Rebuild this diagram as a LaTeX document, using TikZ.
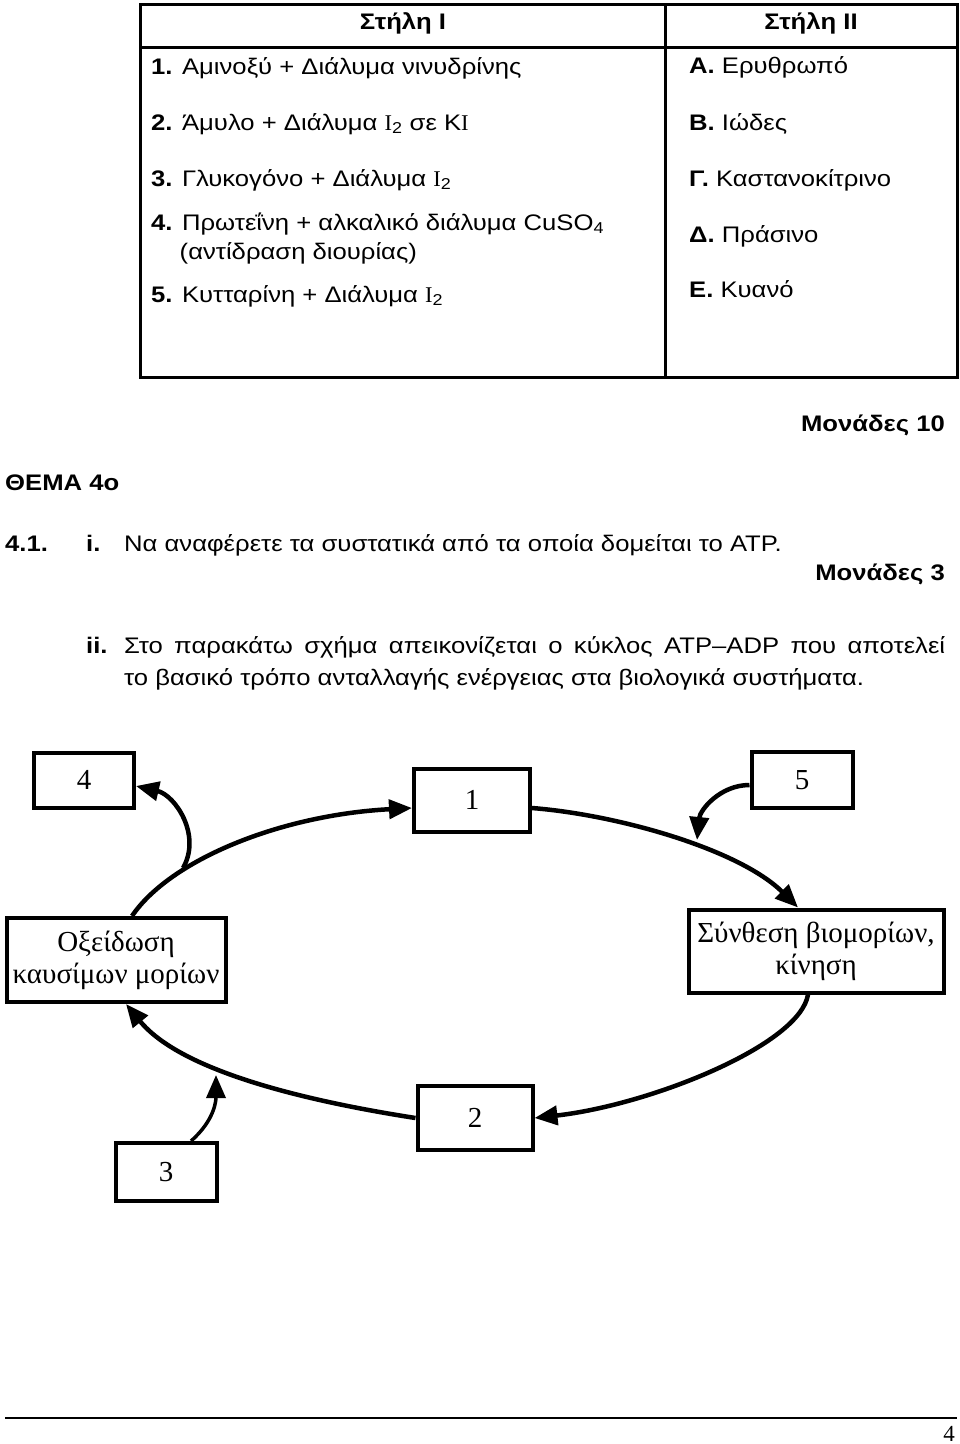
\documentclass[tikz,border=0pt]{standalone}
\usepackage{fontspec}
\setmainfont{Liberation Sans}[FakeStretch=1.14]
\newfontfamily\timesfont{Liberation Serif}
\usetikzlibrary{arrows.meta}

\begin{document}
\begin{tikzpicture}[
    x=1pt, y=-1pt,
    txt/.style={anchor=base west, inner sep=0pt, font=\fontsize{22.5}{26}\selectfont},
    hdr/.style={anchor=base, inner sep=0pt, font=\fontsize{22.5}{26}\selectfont\bfseries},
    box/.style={draw, line width=4pt, inner sep=0pt, align=center, font=\fontsize{29}{32}\selectfont\timesfont},
    arr/.style={-{Triangle[length=23pt, width=19pt]}, line width=4.5pt}
  ]
  \useasboundingbox (0,0) rectangle (960,1444);
  % matching table
  \draw[line width=3pt] (140,4) rectangle (957,377);
  \draw[line width=3pt] (665,4) -- (665,377) (140,47) -- (957,47);
  \node[hdr] (h1) at (403,29) {Στήλη Ι};
  \node[hdr] (h2) at (811,29) {Στήλη ΙΙ};
  \node[txt] (c1) at (151,74) {\textbf{1.} Αμινοξύ + Διάλυμα νινυδρίνης};
  \node[txt] (c2) at (151,130) {\textbf{2.} Άμυλο + Διάλυμα {\timesfont I}\textsubscript{2} σε K{\timesfont I}};
  \node[txt] (c3) at (151,186) {\textbf{3.} Γλυκογόνο + Διάλυμα {\timesfont I}\textsubscript{2}};
  \node[txt] (c4) at (151,230) {\textbf{4.} Πρωτεΐνη + αλκαλικό διάλυμα CuSO\textsubscript{4}};
  \node[txt] (c4b) at (151,259) {\hphantom{\textbf{4.}} (αντίδραση διουρίας)};
  \node[txt] (c5) at (151,302) {\textbf{5.} Κυτταρίνη + Διάλυμα {\timesfont I}\textsubscript{2}};
  \node[txt] (dA) at (689,73) {\textbf{Α.} Ερυθρωπό};
  \node[txt] (dB) at (689,130) {\textbf{Β.} Ιώδες};
  \node[txt] (dC) at (689,186) {\textbf{Γ.} Καστανοκίτρινο};
  \node[txt] (dD) at (689,242) {\textbf{Δ.} Πράσινο};
  \node[txt] (dE) at (689,297) {\textbf{Ε.} Κυανό};
  % questions
  \node[txt, anchor=base east] (m10) at (945,431) {\textbf{Μονάδες 10}};
  \node[txt] (thema) at (5,490) {\textbf{ΘΕΜΑ 4ο}};
  \node[txt] (q41) at (5,551) {\textbf{4.1.}};
  \node[txt] (qi) at (86,551) {\textbf{i.}};
  \node[txt] (qitext) at (124,551) {Να αναφέρετε τα συστατικά από τα οποία δομείται το ATP.};
  \node[txt, anchor=base east] (m3) at (945,580) {\textbf{Μονάδες 3}};
  \node[txt] (qii) at (86,653) {\textbf{ii.}};
  \node[txt] (qiia) at (124,653) {\makebox[821pt][s]{Στο παρακάτω σχήμα απεικονίζεται ο κύκλος ATP–ADP που αποτελεί}};
  \node[txt] (qiib) at (124,685) {το βασικό τρόπο ανταλλαγής ενέργειας στα βιολογικά συστήματα.};
  % ATP-ADP cycle
  \node[box, minimum width=100pt, minimum height=55pt] (b4) at (84,780) {4};
  \node[box, minimum width=116pt, minimum height=63pt] (b1) at (472,800) {1};
  \node[box, minimum width=101pt, minimum height=56pt] (b5) at (802,780) {5};
  \node[box, minimum width=219pt, minimum height=84pt] (ox) at (116,960) {Οξείδωση\\καυσίμων μορίων};
  \node[box, minimum width=255pt, minimum height=83pt] (syn) at (816,951) {Σύνθεση βιομορίων,\\κίνηση};
  \node[box, minimum width=115pt, minimum height=64pt] (b2) at (475,1118) {2};
  \node[box, minimum width=101pt, minimum height=58pt] (b3) at (166,1172) {3};
  \coordinate (j4) at (183,868);
  \coordinate (j5) at (697,840);
  \coordinate (j3) at (216,1075);
  \draw[arr] ([xshift=16pt]ox.north) .. controls (170,860) and (280,815) .. ([yshift=-8pt]b1.west);
  \draw[arr] (j4) .. controls (202,835) and (175,795) .. ([yshift=-6pt]b4.east);
  \draw[arr] ([yshift=-8pt]b1.east) .. controls (620,815) and (740,850) .. ([xshift=-18pt]syn.north);
  \draw[arr] ([yshift=-5pt]b5.west) .. controls (720,785) and (700,810) .. (j5);
  \draw[arr] ([xshift=-8pt]syn.south) .. controls (800,1045) and (650,1105) .. (b2.east);
  \draw[arr] (b2.west) .. controls (300,1100) and (180,1070) .. ([xshift=10pt]ox.south);
  \draw[arr, line width=3.5pt] ([xshift=25pt]b3.north) .. controls (215,1120) and (216,1100) .. (j3);
  % page foot
  \draw[line width=1.5pt] (5,1418) -- (957,1418);
  \node[anchor=base east, inner sep=0pt, font=\fontsize{23}{25}\selectfont\timesfont] (pg) at (955,1441) {4};
\end{tikzpicture}
\end{document}
